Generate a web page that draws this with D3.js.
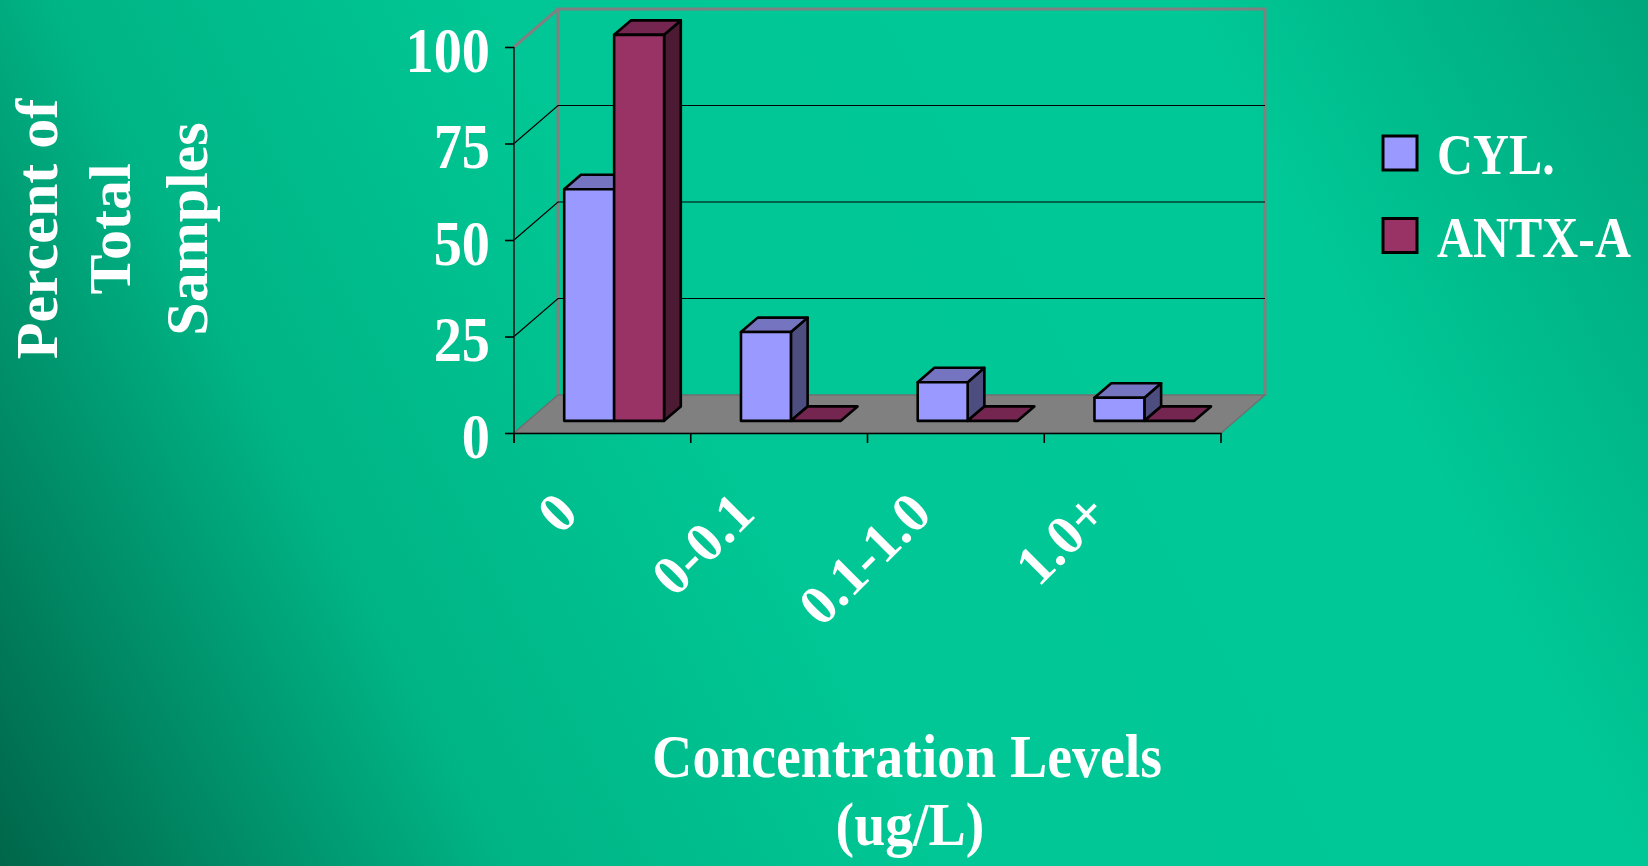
<!DOCTYPE html>
<html>
<head>
<meta charset="utf-8">
<script src="https://cdn.jsdelivr.net/npm/d3@7"></script>
<style>
  html, body { margin: 0; padding: 0; overflow: hidden; }
  svg { display: block; }
  text { font-family: "Liberation Serif", "Times New Roman", serif; font-weight: bold; fill: #ffffff; }
</style>
</head>
<body>
<svg id="chart" width="1648" height="866"></svg>
<script>
// ---------- data ----------
const categories = ["0", "0-0.1", "0.1-1.0", "1.0+"];
const seriesNames = ["CYL.", "ANTX-A"];
const cylValues = [60, 23, 10, 6];
const antxValues = [100, 0, 0, 0];
const yTicks = [0, 25, 50, 75, 100];
const yTitleLines = ["Percent of", "Total", "Samples"];
const xTitleLines = ["Concentration Levels", "(ug/L)"];

// ---------- styles ----------
const frontColors = ["#9999FF", "#993366"];
const topColors = ["#7474C0", "#742650"];
const sideColors = ["#4D4D80", "#4D1A33"];

const W = 1648, H = 866;
const svg = d3.select("#chart");

// background gradient
const defs = svg.append("defs");
const grad = defs.append("linearGradient").attr("id", "bg")
  .attr("gradientUnits", "userSpaceOnUse")
  .attr("x1", 0).attr("y1", H).attr("x2", W).attr("y2", 0);
[[0, "#00664a"], [0.24, "#00b485"], [0.45, "#00c795"], [0.78, "#00c896"], [1, "#00a67c"]]
  .forEach(([o, c]) => grad.append("stop").attr("offset", o).attr("stop-color", c));
svg.append("rect").attr("width", W).attr("height", H).attr("fill", "url(#bg)");

// ---------- scales / 3D projection ----------
const y = d3.scaleLinear().domain([0, 100]).range([433, 47]);
const x = d3.scaleBand().domain(categories).range([514, 1221]);
const x1 = d3.scaleBand().domain(seriesNames).range([0, x.bandwidth()])
  .paddingInner(0).paddingOuter(0.77).align(0.47);
const DX = 44, DY = 38;           // depth of the plot box
const z0 = 0.32, z1 = 0.70;        // depth span of the bars
const proj = (px, v, z) => [px + z * DX, y(v) - z * DY];
const pts = arr => arr.map(p => p.join(",")).join(" ");

const [xMin, xMax] = x.range();
const yMin = 0, yMax = 100;

// back wall outline
svg.append("polyline")
  .attr("points", pts([proj(xMin, yMin, 1), proj(xMin, yMax, 1), proj(xMax, yMax, 1), proj(xMax, yMin, 1)]))
  .attr("fill", "none").attr("stroke", "#808080").attr("stroke-width", 3);
// side wall top edge
svg.append("line")
  .attr("x1", proj(xMin, yMax, 0)[0]).attr("y1", proj(xMin, yMax, 0)[1])
  .attr("x2", proj(xMin, yMax, 1)[0]).attr("y2", proj(xMin, yMax, 1)[1])
  .attr("stroke", "#808080").attr("stroke-width", 3);

// gridlines (side wall + back wall)
const gridVals = yTicks.filter(v => v > 0 && v < 100);
const grid = svg.append("g").attr("stroke", "#000").attr("stroke-width", 1.2).attr("fill", "none");
gridVals.forEach(v => {
  grid.append("polyline").attr("points", pts([proj(xMin, v, 0), proj(xMin, v, 1), proj(xMax, v, 1)]));
});

// floor
svg.append("polygon")
  .attr("points", pts([proj(xMin, 0, 0), proj(xMax, 0, 0), proj(xMax, 0, 1), proj(xMin, 0, 1)]))
  .attr("fill", "#808080").attr("stroke", "#707070").attr("stroke-width", 1.5);

// ---------- bars ----------
const bars = categories.flatMap((c, i) => [
  { cat: c, s: 0, v: cylValues[i] },
  { cat: c, s: 1, v: antxValues[i] }
]);
const barG = svg.append("g").selectAll("g").data(bars).join("g")
  .attr("stroke", "#000").attr("stroke-width", 2.6).attr("stroke-linejoin", "round");
barG.each(function(d) {
  const g = d3.select(this);
  const xl = x(d.cat) + x1(seriesNames[d.s]);
  const xr = xl + x1.bandwidth();
  if (d.v > 0) {
    g.append("polygon").attr("fill", sideColors[d.s])
      .attr("points", pts([proj(xr, 0, z0), proj(xr, 0, z1), proj(xr, d.v, z1), proj(xr, d.v, z0)]));
  }
  g.append("polygon").attr("fill", topColors[d.s])
    .attr("points", pts([proj(xl, d.v, z0), proj(xr, d.v, z0), proj(xr, d.v, z1), proj(xl, d.v, z1)]));
  if (d.v > 0) {
    g.append("polygon").attr("fill", frontColors[d.s])
      .attr("points", pts([proj(xl, 0, z0), proj(xr, 0, z0), proj(xr, d.v, z0), proj(xl, d.v, z0)]));
  }
});

// ---------- axes ----------
const yAxis = svg.append("g").attr("transform", `translate(${xMin},0)`)
  .call(d3.axisLeft(y).tickValues(yTicks).tickSize(9).tickSizeOuter(0));
yAxis.select(".domain").attr("stroke", "#1a1a1a").attr("stroke-width", 1.6)
  .attr("d", `M0,${y(100)}V${y(0) + 10}`);
yAxis.selectAll(".tick line").attr("stroke", "#000").attr("stroke-width", 1.6);
yAxis.selectAll(".tick text")
  .attr("x", 0).attr("dy", null).attr("y", 0)
  .attr("transform", "translate(-24,24) scale(0.88,1)")
  .attr("text-anchor", "end")
  .style("font-size", "64px").style("font-family", "'Liberation Serif', serif")
  .style("font-weight", "bold").attr("fill", "#fff");

const xAxis = svg.append("g").attr("transform", `translate(0,${y(0)})`)
  .call(d3.axisBottom(x).tickSize(0).tickFormat(""));
xAxis.select(".domain").attr("stroke", "#000").attr("stroke-width", 1.6);
const boundaries = categories.map(c => x(c)).concat([xMax]);
xAxis.selectAll(".bt").data(boundaries).join("line").attr("class", "bt")
  .attr("x1", d => d).attr("x2", d => d).attr("y1", 0).attr("y2", 10)
  .attr("stroke", "#000").attr("stroke-width", 1.6);

svg.append("g").selectAll("text").data(categories).join("text")
  .attr("transform", d => `translate(${x(d) + x.bandwidth() / 2 - 22},516) rotate(-45)`)
  .attr("text-anchor", "end")
  .style("font-size", "56px")
  .text(d => d);

// ---------- titles ----------
const yTitleX = [57, 130, 207];
svg.append("g").selectAll("text").data(yTitleLines).join("text")
  .attr("transform", (d, i) => `translate(${yTitleX[i]},229) rotate(-90)`)
  .attr("text-anchor", "middle")
  .style("font-size", "60px")
  .text(d => d);

const xTitlePos = [[907, 777], [910, 845]];
svg.append("g").selectAll("text").data(xTitleLines).join("text")
  .attr("transform", (d, i) => `translate(${xTitlePos[i][0]},${xTitlePos[i][1]}) scale(0.9,1)`)
  .attr("text-anchor", "middle")
  .style("font-size", "62px")
  .text(d => d);

// ---------- legend ----------
const legendY = [153, 235.5];
const leg = svg.append("g").selectAll("g").data(seriesNames).join("g")
  .attr("transform", (d, i) => `translate(1383,${legendY[i]})`);
leg.append("rect").attr("x", 0).attr("y", -17).attr("width", 34).attr("height", 34)
  .attr("fill", (d, i) => frontColors[i]).attr("stroke", "#000").attr("stroke-width", 3);
leg.append("text")
  .attr("transform", "translate(54,21) scale(0.86,1)")
  .style("font-size", "58px")
  .text(d => d);
</script>
</body>
</html>
